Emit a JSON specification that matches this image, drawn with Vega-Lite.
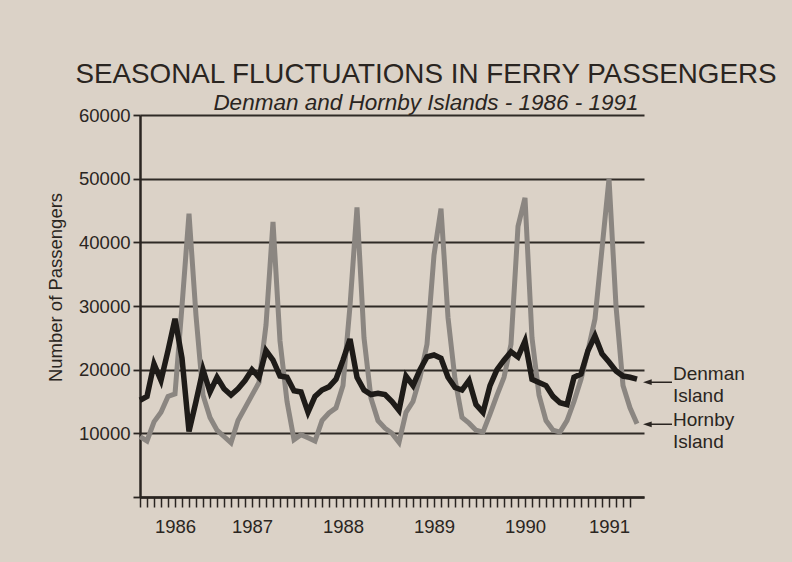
{
  "$schema": "https://vega.github.io/schema/vega-lite/v6.json",
  "width": 504,
  "height": 382,
  "autosize": {"type": "none"},
  "padding": {"left": 140, "top": 115, "right": 148, "bottom": 65},
  "background": "#dbd2c7",
  "config": {"view": {"stroke": null}, "font": "Liberation Sans"},
  "title": {
    "text": "SEASONAL FLUCTUATIONS IN FERRY PASSENGERS",
    "subtitle": "Denman and Hornby Islands - 1986 - 1991",
    "anchor": "middle",
    "frame": "group",
    "dx": 34,
    "offset": -8,
    "font": "Liberation Sans",
    "fontSize": 27.8,
    "fontWeight": "normal",
    "color": "#2a2521",
    "subtitleFont": "Liberation Sans",
    "subtitleFontSize": 22.5,
    "subtitleFontStyle": "italic",
    "subtitleColor": "#2a2521",
    "subtitlePadding": 3
  },
  "data": {
    "values": [
      {"t": 0, "date": "1986-01", "denman": 15200, "hornby": 9500},
      {"t": 1, "date": "1986-02", "denman": 15800, "hornby": 8800},
      {"t": 2, "date": "1986-03", "denman": 20900, "hornby": 11800},
      {"t": 3, "date": "1986-04", "denman": 18300, "hornby": 13300},
      {"t": 4, "date": "1986-05", "denman": 23000, "hornby": 15800},
      {"t": 5, "date": "1986-06", "denman": 28000, "hornby": 16200},
      {"t": 6, "date": "1986-07", "denman": 21800, "hornby": 30000},
      {"t": 7, "date": "1986-08", "denman": 10300, "hornby": 44500},
      {"t": 8, "date": "1986-09", "denman": 15000, "hornby": 28500},
      {"t": 9, "date": "1986-10", "denman": 20000, "hornby": 16000},
      {"t": 10, "date": "1986-11", "denman": 16500, "hornby": 12500},
      {"t": 11, "date": "1986-12", "denman": 18800, "hornby": 10500},
      {"t": 12, "date": "1987-01", "denman": 17000, "hornby": 9500},
      {"t": 13, "date": "1987-02", "denman": 16000, "hornby": 8500},
      {"t": 14, "date": "1987-03", "denman": 17000, "hornby": 12000},
      {"t": 15, "date": "1987-04", "denman": 18300, "hornby": 14000},
      {"t": 16, "date": "1987-05", "denman": 20000, "hornby": 16000},
      {"t": 17, "date": "1987-06", "denman": 18800, "hornby": 18000},
      {"t": 18, "date": "1987-07", "denman": 23000, "hornby": 27000},
      {"t": 19, "date": "1987-08", "denman": 21500, "hornby": 43200},
      {"t": 20, "date": "1987-09", "denman": 19000, "hornby": 24500},
      {"t": 21, "date": "1987-10", "denman": 18800, "hornby": 15000},
      {"t": 22, "date": "1987-11", "denman": 16700, "hornby": 9000},
      {"t": 23, "date": "1987-12", "denman": 16500, "hornby": 9800},
      {"t": 24, "date": "1988-01", "denman": 13300, "hornby": 9300},
      {"t": 25, "date": "1988-02", "denman": 15800, "hornby": 8800},
      {"t": 26, "date": "1988-03", "denman": 16800, "hornby": 12000},
      {"t": 27, "date": "1988-04", "denman": 17300, "hornby": 13200},
      {"t": 28, "date": "1988-05", "denman": 18500, "hornby": 14000},
      {"t": 29, "date": "1988-06", "denman": 21500, "hornby": 17500},
      {"t": 30, "date": "1988-07", "denman": 24800, "hornby": 30000},
      {"t": 31, "date": "1988-08", "denman": 18800, "hornby": 45500},
      {"t": 32, "date": "1988-09", "denman": 16800, "hornby": 25000},
      {"t": 33, "date": "1988-10", "denman": 16100, "hornby": 15500},
      {"t": 34, "date": "1988-11", "denman": 16300, "hornby": 12000},
      {"t": 35, "date": "1988-12", "denman": 16100, "hornby": 10800},
      {"t": 36, "date": "1989-01", "denman": 15000, "hornby": 10000},
      {"t": 37, "date": "1989-02", "denman": 13600, "hornby": 8600},
      {"t": 38, "date": "1989-03", "denman": 19000, "hornby": 13300},
      {"t": 39, "date": "1989-04", "denman": 17500, "hornby": 15000},
      {"t": 40, "date": "1989-05", "denman": 20000, "hornby": 18800},
      {"t": 41, "date": "1989-06", "denman": 22000, "hornby": 24000},
      {"t": 42, "date": "1989-07", "denman": 22300, "hornby": 38000},
      {"t": 43, "date": "1989-08", "denman": 21800, "hornby": 45300},
      {"t": 44, "date": "1989-09", "denman": 18800, "hornby": 28200},
      {"t": 45, "date": "1989-10", "denman": 17200, "hornby": 18500},
      {"t": 46, "date": "1989-11", "denman": 16800, "hornby": 12500},
      {"t": 47, "date": "1989-12", "denman": 18300, "hornby": 11600},
      {"t": 48, "date": "1990-01", "denman": 14500, "hornby": 10500},
      {"t": 49, "date": "1990-02", "denman": 13300, "hornby": 10200},
      {"t": 50, "date": "1990-03", "denman": 17500, "hornby": 13000},
      {"t": 51, "date": "1990-04", "denman": 20000, "hornby": 16000},
      {"t": 52, "date": "1990-05", "denman": 21500, "hornby": 18800},
      {"t": 53, "date": "1990-06", "denman": 22800, "hornby": 24000},
      {"t": 54, "date": "1990-07", "denman": 22000, "hornby": 42500},
      {"t": 55, "date": "1990-08", "denman": 24500, "hornby": 47000},
      {"t": 56, "date": "1990-09", "denman": 18500, "hornby": 25000},
      {"t": 57, "date": "1990-10", "denman": 18000, "hornby": 16000},
      {"t": 58, "date": "1990-11", "denman": 17500, "hornby": 12000},
      {"t": 59, "date": "1990-12", "denman": 15800, "hornby": 10500},
      {"t": 60, "date": "1991-01", "denman": 14800, "hornby": 10200},
      {"t": 61, "date": "1991-02", "denman": 14500, "hornby": 12000},
      {"t": 62, "date": "1991-03", "denman": 18800, "hornby": 15000},
      {"t": 63, "date": "1991-04", "denman": 19300, "hornby": 18500},
      {"t": 64, "date": "1991-05", "denman": 23000, "hornby": 23000},
      {"t": 65, "date": "1991-06", "denman": 25300, "hornby": 28000},
      {"t": 66, "date": "1991-07", "denman": 22500, "hornby": 39000},
      {"t": 67, "date": "1991-08", "denman": 21200, "hornby": 50000},
      {"t": 68, "date": "1991-09", "denman": 19800, "hornby": 30000},
      {"t": 69, "date": "1991-10", "denman": 19000, "hornby": 17500},
      {"t": 70, "date": "1991-11", "denman": 18800, "hornby": 14000},
      {"t": 71, "date": "1991-12", "denman": 18500, "hornby": 11500}
    ]
  },
  "layer": [
    {
      "mark": {"type": "line", "color": "#8b8681", "strokeWidth": 5},
      "encoding": {
        "x": {
          "field": "t",
          "type": "quantitative",
          "scale": {"domain": [0, 72], "nice": false, "zero": false},
          "axis": {
            "title": null,
            "values": [0,1,2,3,4,5,6,7,8,9,10,11,12,13,14,15,16,17,18,19,20,21,22,23,24,25,26,27,28,29,30,31,32,33,34,35,36,37,38,39,40,41,42,43,44,45,46,47,48,49,50,51,52,53,54,55,56,57,58,59,60,61,62,63,64,65,66,67,68,69,70],
            "tickCount": 100,
            "grid": false,
            "domainColor": "#2a2521",
            "domainWidth": 2.5,
            "tickColor": "#2a2521",
            "tickWidth": 1.5,
            "tickSize": 10,
            "labelExpr": "datum.value == 5 ? '1986' : datum.value == 16 ? '1987' : datum.value == 29 ? '1988' : datum.value == 42 ? '1989' : datum.value == 55 ? '1990' : datum.value == 67 ? '1991' : ''",
            "labelFont": "Liberation Sans",
            "labelFontSize": 18.5,
            "labelColor": "#2a2521",
            "labelPadding": 10,
            "labelOverlap": false,
            "labelFlush": false,
            "labelBound": false
          }
        },
        "y": {
          "field": "hornby",
          "type": "quantitative",
          "scale": {"domain": [0, 60000], "nice": false},
          "axis": {
            "title": "Number of Passengers",
            "values": [0, 10000, 20000, 30000, 40000, 50000, 60000],
            "format": "d",
            "labelExpr": "datum.value == 0 ? '' : datum.label",
            "grid": true,
            "gridColor": "#2f2a26",
            "gridWidth": 1.8,
            "gridOpacity": 1,
            "domainColor": "#2a2521",
            "domainWidth": 2.5,
            "tickColor": "#2a2521",
            "tickWidth": 1.8,
            "tickSize": 7,
            "labelFont": "Liberation Sans",
            "labelFontSize": 18.5,
            "labelColor": "#2a2521",
            "labelPadding": 3,
            "titleFont": "Liberation Sans",
            "titleFontSize": 18.5,
            "titleFontWeight": "normal",
            "titleColor": "#2a2521",
            "titleX": -85,
            "titleY": 172,
            "titleAlign": "center",
            "titleBaseline": "middle",
            "titleAngle": -90
          }
        }
      }
    },
    {
      "mark": {"type": "line", "color": "#1e1b18", "strokeWidth": 5.5},
      "encoding": {
        "x": {"field": "t", "type": "quantitative"},
        "y": {"field": "denman", "type": "quantitative"}
      }
    },
    {
      "transform": [{"filter": "datum.t == 71"}],
      "mark": {"type": "point", "shape": "M -1 0 L -0.4 -0.2 L -0.4 -0.05 L 1 -0.05 L 1 0.05 L -0.4 0.05 L -0.4 0.2 Z", "size": 841, "filled": true, "color": "#2a2521", "opacity": 1, "xOffset": 20.5, "yOffset": 3},
      "encoding": {
        "x": {"field": "t", "type": "quantitative"},
        "y": {"field": "denman", "type": "quantitative"}
      }
    },
    {
      "transform": [{"filter": "datum.t == 71"}],
      "mark": {"type": "text", "text": ["Denman", "Island"], "align": "left", "baseline": "alphabetic", "dx": 36, "dy": 1, "font": "Liberation Sans", "fontSize": 19, "lineHeight": 21.5, "color": "#2a2521"},
      "encoding": {
        "x": {"field": "t", "type": "quantitative"},
        "y": {"field": "denman", "type": "quantitative"}
      }
    },
    {
      "transform": [{"filter": "datum.t == 71"}],
      "mark": {"type": "point", "shape": "M -1 0 L -0.4 -0.2 L -0.4 -0.05 L 1 -0.05 L 1 0.05 L -0.4 0.05 L -0.4 0.2 Z", "size": 841, "filled": true, "color": "#2a2521", "opacity": 1, "xOffset": 20.5, "yOffset": 0.5},
      "encoding": {
        "x": {"field": "t", "type": "quantitative"},
        "y": {"field": "hornby", "type": "quantitative"}
      }
    },
    {
      "transform": [{"filter": "datum.t == 71"}],
      "mark": {"type": "text", "text": ["Hornby", "Island"], "align": "left", "baseline": "alphabetic", "dx": 36, "dy": 2.5, "font": "Liberation Sans", "fontSize": 19, "lineHeight": 21.5, "color": "#2a2521"},
      "encoding": {
        "x": {"field": "t", "type": "quantitative"},
        "y": {"field": "hornby", "type": "quantitative"}
      }
    }
  ]
}
